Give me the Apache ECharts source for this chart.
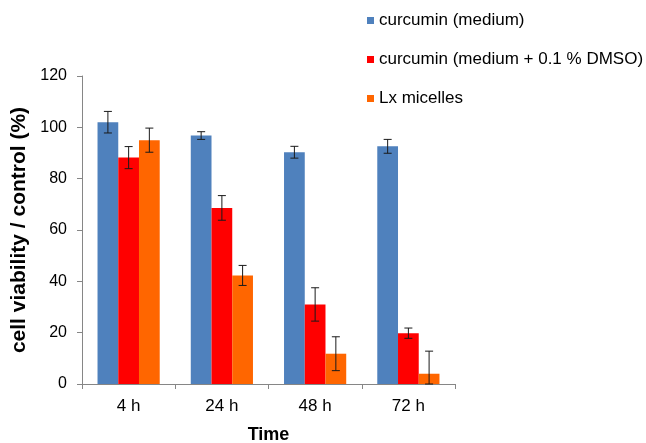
<!DOCTYPE html>
<html>
<head>
<meta charset="utf-8">
<script src="https://cdn.jsdelivr.net/npm/echarts@6/dist/echarts.min.js"></script>
<style>html,body{margin:0;padding:0;background:#fff}#c{width:646px;height:443px}</style>
</head>
<body>
<div id="c"></div>
<script>
var categories = ['4 h', '24 h', '48 h', '72 h'];
var seriesNames = ['curcumin (medium)', 'curcumin (medium + 0.1 % DMSO)', 'Lx micelles'];
var curcuminMedium = [102, 96.8, 90.3, 92.6];
var curcuminMediumErr = [4.2, 1.5, 2.3, 2.7];
var curcuminDMSO = [88.2, 68.6, 31.0, 19.8];
var curcuminDMSOErr = [4.3, 4.8, 6.5, 2.0];
var lxMicelles = [95.0, 42.3, 11.8, 4.0];
var lxMicellesErr = [4.7, 3.9, 6.6, 8.8];
var colors = ['#4F81BD', '#FF0000', '#FF6600'];

var values = [curcuminMedium, curcuminDMSO, lxMicelles];
var errs = [curcuminMediumErr, curcuminDMSOErr, lxMicellesErr];
var catGap = 0.333;

var series = [];
values.forEach(function (v, i) {
  series.push({
    name: seriesNames[i],
    type: 'bar',
    data: v,
    barGap: '0%',
    barCategoryGap: '33.3%',
    itemStyle: { color: colors[i] },
    z: 2
  });
});
values.forEach(function (v, i) {
  var data = v.map(function (val, k) { return [k, val, errs[i][k]]; });
  series.push({
    type: 'custom',
    name: 'err' + i,
    data: data,
    z: 5,
    renderItem: function (params, api) {
      var k = api.value(0), val = api.value(1), e = api.value(2);
      var catW = api.size([1, 0])[0];
      var bw = catW * (1 - catGap) / 3;
      var off = (i - 1) * bw;
      var lo = Math.max(0, val - e), hi = val + e;
      var pTop = api.coord([k, hi]);
      var pBot = api.coord([k, lo]);
      var x = pTop[0] + off;
      var cap = 4;
      var st = { stroke: '#1a1a1a', lineWidth: 1 };
      return {
        type: 'group',
        children: [
          { type: 'line', shape: { x1: x, y1: pTop[1], x2: x, y2: pBot[1] }, style: st },
          { type: 'line', shape: { x1: x - cap, y1: pTop[1], x2: x + cap, y2: pTop[1] }, style: st },
          { type: 'line', shape: { x1: x - cap, y1: pBot[1], x2: x + cap, y2: pBot[1] }, style: st }
        ]
      };
    }
  });
});

var chart = echarts.init(document.getElementById('c'), null, { renderer: 'canvas' });
chart.setOption({
  animation: false,
  backgroundColor: '#fff',
  textStyle: { fontFamily: 'Liberation Sans, Arial, sans-serif' },
  grid: { left: 82, right: 191, top: 76, bottom: 59, outerBoundsMode: 'none', containLabel: false },
  legend: {
    data: seriesNames,
    orient: 'vertical',
    left: 362,
    top: 7,
    icon: 'rect',
    itemWidth: 7,
    itemHeight: 7,
    itemGap: 22,
    textStyle: { fontSize: 17, color: '#000', lineHeight: 17 }
  },
  xAxis: {
    type: 'category',
    data: categories,
    name: 'Time',
    nameLocation: 'middle',
    nameGap: 42,
    nameTextStyle: { fontSize: 18, fontWeight: 'bold', color: '#000' },
    axisLine: { lineStyle: { color: '#868686' } },
    axisTick: { show: true, length: 5, lineStyle: { color: '#868686' } },
    axisLabel: { fontSize: 17, color: '#000', margin: 14 },
    splitLine: { show: false }
  },
  yAxis: {
    type: 'value',
    min: 0,
    max: 120,
    interval: 20,
    name: 'cell viability / control (%)',
    nameLocation: 'middle',
    nameGap: 52,
    nameTextStyle: { fontSize: 21, fontWeight: 'bold', color: '#000' },
    axisLine: { show: true, lineStyle: { color: '#868686' } },
    axisTick: { show: true, length: 5, lineStyle: { color: '#868686' } },
    axisLabel: { fontSize: 16, color: '#000', margin: 15 },
    splitLine: { show: false }
  },
  series: series
});
</script>
</body>
</html>
